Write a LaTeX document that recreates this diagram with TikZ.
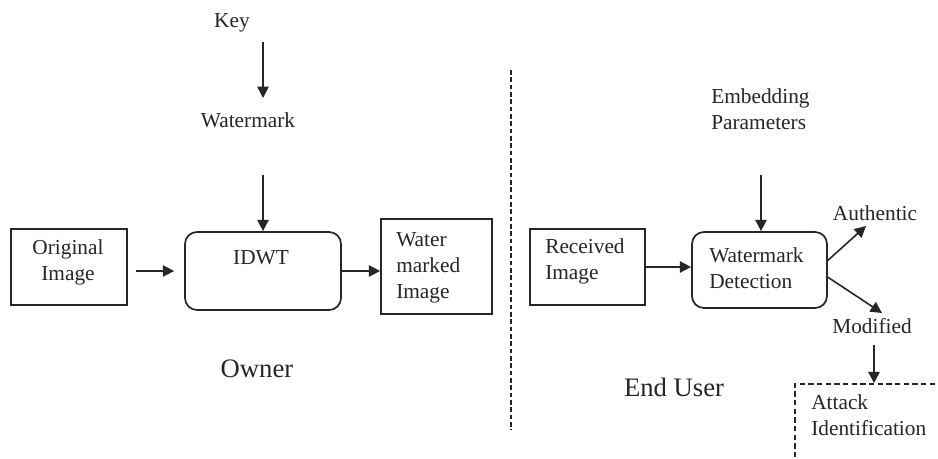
\documentclass[tikz,border=0pt]{standalone}
\usepackage{fontspec}
\setmainfont{Liberation Serif}
\usetikzlibrary{arrows.meta}
\begin{document}
\begin{tikzpicture}[x=0.75pt,y=-0.75pt,
  every node/.style={text=black!85},
  txt/.style={font=\fontsize{16}{19.5}\selectfont, inner sep=0pt, align=left},
  big/.style={font=\fontsize{20}{24}\selectfont, inner sep=0pt},
  box/.style={draw=black!85, line width=1.3pt, inner sep=0pt},
  rbox/.style={box, rounded corners=9pt},
  dbox/.style={draw=black!85, line width=1.2pt, dash pattern=on 4pt off 2.5pt, inner sep=0pt},
  arr/.style={draw=black!85, line width=1.2pt, -{Triangle[length=8.5pt,width=8.5pt]}},
  sep/.style={draw=black!85, line width=1pt, dash pattern=on 3.5pt off 2pt}]
\useasboundingbox (0,0) rectangle (938,459);
\clip (0,0) rectangle (938,459);
\fill[white] (0,0) rectangle (938,459);

% boxes
\node[box, minimum width=87pt, minimum height=57pt] (orig) at (69,267) {};
\node[rbox, minimum width=117pt, minimum height=58.5pt] (idwt) at (263,271) {};
\node[box, minimum width=83.25pt, minimum height=71.25pt] (wmi) at (436.5,266.5) {};
\node[box, minimum width=86.25pt, minimum height=57pt] (recv) at (587.5,267) {};
\node[rbox, minimum width=101.25pt, minimum height=57pt] (det) at (759.5,270) {};
\node[dbox, minimum width=123.75pt, minimum height=72pt] (attack) at (877.5,432) {};

% texts
\node[txt] (key) at (232,23) {Key};
\node[txt] (wm) at (248,120) {Watermark};
\node[txt] (idwtt) at (261,258) {IDWT};
\node[txt, align=center] (origt) at (68,262) {Original\\Image};
\node[txt, anchor=west] (wmit) at (396,267.5) {Water\\marked\\Image};
\node[big] (owner) at (257,369) {Owner};
\node[txt, anchor=west] (emb) at (711,109) {Embedding\\Parameters};
\node[txt, anchor=west] (recvt) at (545,261.5) {Received\\Image};
\node[txt, anchor=west] (dett) at (709,268.5) {Watermark\\Detection};
\node[txt] (auth) at (875,213) {Authentic};
\node[txt] (mod) at (872,326) {Modified};
\node[txt, anchor=west] (attt) at (811,415) {Attack\\Identification};
\node[big] (enduser) at (674,387) {End User};

% free ends
\coordinate (k1) at (263,42);
\coordinate (k2) at (263,98);
\coordinate (w1) at (263,175);
\coordinate (e1) at (761,175);
\coordinate (au) at (866,226);
\coordinate (mo) at (882,313);
\coordinate (m1) at (874,345);
\coordinate (s1) at (511,70);
\coordinate (s2) at (511,430);

% connectors
\draw[arr] (k1) -- (k2);
\draw[arr] (w1) -- (w1 |- idwt.north);
\draw[arr, shorten <=6pt, shorten >=7.5pt] (orig.east |- idwt.west) -- (idwt.west);
\draw[arr] (idwt.east) -- (idwt.east -| wmi.west);
\draw[arr] (recv.east) -- (recv.east -| det.west);
\draw[arr] (e1) -- (e1 |- det.north);
\draw[arr] (det.8) -- (au);
\draw[arr] (det.-6) -- (mo);
\draw[arr] (m1) -- (m1 |- attack.north);
\draw[sep] (s1) -- (s2);
\end{tikzpicture}
\end{document}
